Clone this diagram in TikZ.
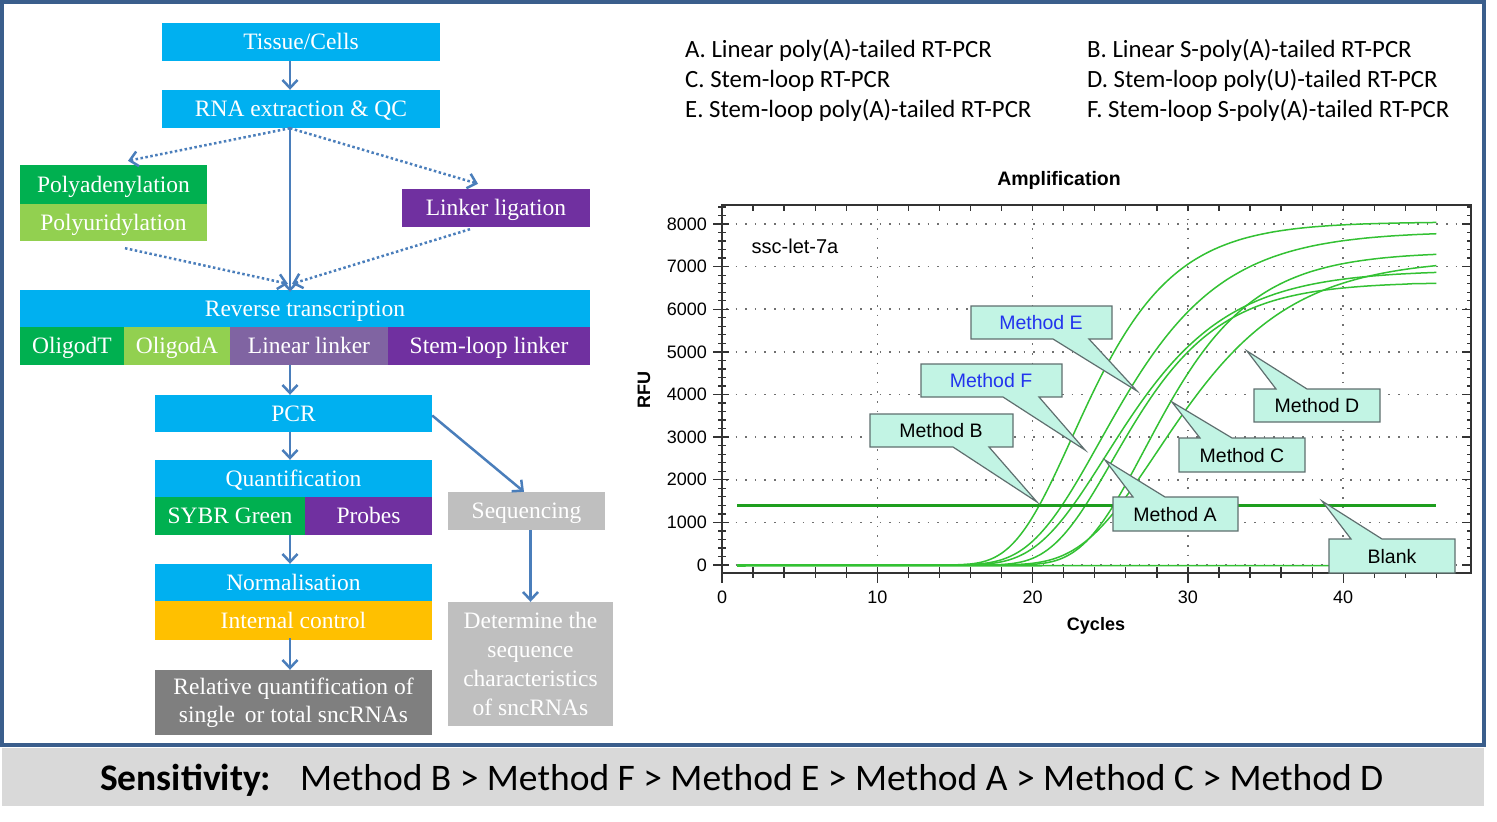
\documentclass[tikz,border=0pt]{standalone}
\usepackage{fontspec}
\setmainfont{Liberation Serif}
\newfontfamily\arialf{Liberation Sans}
\newfontfamily\calf{Carlito}
\usetikzlibrary{arrows.meta,calc}
\definecolor{cyanb}{HTML}{00B0F0}
\definecolor{greenb}{HTML}{00B050}
\definecolor{lgreenb}{HTML}{92D050}
\definecolor{purpb}{HTML}{7030A0}
\definecolor{lpurpb}{HTML}{8064A2}
\definecolor{yellb}{HTML}{FFC000}
\definecolor{dgrayb}{HTML}{7F7F7F}
\definecolor{lgrayb}{HTML}{BFBFBF}
\definecolor{arrc}{HTML}{4A7EBB}
\definecolor{framec}{HTML}{3A5E8C}
\definecolor{barc}{HTML}{D9D9D9}
\definecolor{curvec}{HTML}{33C133}
\definecolor{threshc}{HTML}{1E9E1E}
\definecolor{gridc}{HTML}{707070}
\definecolor{calfill}{HTML}{C2F4E4}
\definecolor{calline}{HTML}{5F6F6F}
\definecolor{bluet}{HTML}{2233EE}
\tikzset{
  blk/.style={inner sep=0pt, text=white, font=\fontsize{23.5}{29}\selectfont, align=center, text height=17pt, text depth=1.5pt},
  multi/.style={text height={}, text depth={}},
  arr/.style={draw=arrc, line width=2.5pt, -{Straight Barb[length=8pt,width=15pt]}},
  dotarr/.style={draw=arrc, line width=2.5pt, dash pattern=on 2.5pt off 2.5pt, -{Straight Barb[length=8pt,width=15pt]}},
  gridl/.style={draw=gridc, line width=1.6pt, dash pattern=on 1.6pt off 8pt},
  curve/.style={draw=curvec, line width=1.5pt},
  thresh/.style={draw=threshc, line width=3pt},
  tickl/.style={draw=black!80, line width=1.3pt},
  callbox/.style={fill=calfill, draw=calline, line width=1.2pt, line join=miter},
  calltext/.style={font=\arialf\fontsize{19.5}{22}\selectfont, inner sep=0pt},
  axlab/.style={font=\arialf\fontsize{18}{21}\selectfont, inner sep=0pt},
  legend/.style={font=\calf\fontsize{24.8}{28}\selectfont, anchor=base west, inner sep=0pt}
}
\begin{document}
\begin{tikzpicture}[x=1pt, y=-1pt,
  declare function={gz(\xa,\xb,\xc,\xd)=\xb*exp(-min(exp(-(\xa-\xc)/\xd),9));}]
\useasboundingbox (0,0) rectangle (1497,822);
\fill[white] (0,0) rectangle (1497,822);
% frame and bottom bar
\fill[barc] (2,748) rectangle (1484,806);
\draw[framec, line width=3.5pt] (2,2) rectangle (1484,745);

% ---------- flowchart ----------
\node[blk, fill=cyanb, minimum width=278pt, minimum height=38pt] (tis) at (301,42) {Tissue/Cells};
\node[blk, fill=cyanb, minimum width=278pt, minimum height=38pt] (rna) at (301,109) {RNA extraction \& QC};
\node[blk, fill=greenb, minimum width=187pt, minimum height=39pt] (pA) at (113.5,184.5) {Polyadenylation};
\node[blk, fill=lgreenb, minimum width=187pt, minimum height=37pt] (pU) at (113.5,222.5) {Polyuridylation};
\node[blk, fill=purpb, minimum width=188pt, minimum height=38pt] (lig) at (496,208) {Linker ligation};
\node[blk, fill=cyanb, minimum width=570pt, minimum height=37pt] (rt) at (305,308.5) {Reverse transcription};
\node[blk, fill=greenb, minimum width=104pt, minimum height=38pt] (odT) at (72,346) {OligodT};
\node[blk, fill=lgreenb, minimum width=106pt, minimum height=38pt] (odA) at (177,346) {OligodA};
\node[blk, fill=lpurpb, minimum width=158pt, minimum height=38pt] (linl) at (309,346) {Linear linker};
\node[blk, fill=purpb, minimum width=202pt, minimum height=38pt] (stl) at (489,346) {Stem-loop linker};
\node[blk, fill=cyanb, minimum width=277pt, minimum height=37pt] (pcr) at (293.5,413.5) {PCR};
\node[blk, fill=cyanb, minimum width=277pt, minimum height=37pt] (quant) at (293.5,478.5) {Quantification};
\node[blk, fill=greenb, minimum width=150pt, minimum height=38pt] (sybr) at (230,516) {SYBR Green};
\node[blk, fill=purpb, minimum width=127pt, minimum height=38pt] (prob) at (368.5,516) {Probes};
\node[blk, fill=cyanb, minimum width=277pt, minimum height=37pt] (norm) at (293.5,582.5) {Normalisation};
\node[blk, fill=yellb, minimum width=277pt, minimum height=39pt] (ictl) at (293.5,620.5) {Internal control};
\node[blk, multi, fill=dgrayb, minimum width=277pt, minimum height=65pt, font=\fontsize{23.5}{28}\selectfont] (rel) at (293.5,702.5) {Relative quantification of\\single\, or total sncRNAs};
\node[blk, fill=lgrayb, minimum width=157pt, minimum height=38pt] (seq) at (526.5,511) {Sequencing};
\node[blk, multi, fill=lgrayb, minimum width=165pt, minimum height=124pt] (det) at (530.5,664) {Determine the\\sequence\\characteristics\\of sncRNAs};

\coordinate (ax) at (290,0);
\draw[arr] (tis.south -| ax) -- (rna.north -| ax);
\draw[arr] (rna.south -| ax) -- ([yshift=-2pt]rt.north -| ax);
\draw[dotarr] (rna.south -| ax) -- ([shift={(14.5,-4)}]pA.north);
\draw[dotarr] (rna.south -| ax) -- ([shift={(-18,-5)}]lig.north);
\draw[dotarr] ([shift={(11.5,7)}]pU.south) -- ([shift={(-2,-6)}]rt.north -| ax);
\draw[dotarr] ([shift={(-26,2)}]lig.south) -- ([shift={(2,-6)}]rt.north -| ax);
\draw[arr] (linl.south -| ax) -- (pcr.north -| ax);
\draw[arr] (pcr.south -| ax) -- (quant.north -| ax);
\draw[arr] (sybr.south -| ax) -- (norm.north -| ax);
\draw[arr] ([yshift=2pt]ictl.south -| ax) -- (rel.north -| ax);
\draw[arr] ([yshift=-2pt]pcr.east) -- ([xshift=-2.5pt]seq.north);
\draw[arr] (seq.south -| det.north) -- (det.north);

% ---------- legend ----------
\node[legend] (lA) at (685,57) {A. Linear poly(A)-tailed RT-PCR};
\node[legend] (lC) at (685,87) {C. Stem-loop RT-PCR};
\node[legend] (lE) at (685,117) {E. Stem-loop poly(A)-tailed RT-PCR};
\node[legend] (lB) at (1087,57) {B. Linear S-poly(A)-tailed RT-PCR};
\node[legend] (lD) at (1087,87) {D. Stem-loop poly(U)-tailed RT-PCR};
\node[legend] (lF) at (1087,117) {F. Stem-loop S-poly(A)-tailed RT-PCR};

% ---------- chart ----------
\foreach \k in {0,...,8} \draw[gridl] (726,{565-42.625*\k}) -- (1467,{565-42.625*\k});
\foreach \k in {1,...,4} \draw[gridl] ({722+155.3*\k},209) -- ({722+155.3*\k},569);

\foreach \M/\Z/\K in {8050/22.5/3.7, 7830/24.3/4.43, 6920/24.68/4.43, 6640/25.12/3.876, 7350/27.2/3.94, 7200/28.0/4.87}
  \draw[curve] plot[domain=1:46, samples=91, smooth] ({722+15.53*\x},{565-0.042625*gz(\x,\M,\Z,\K)});
\draw[curve] (737,566) -- (1330,565.5);
\draw[thresh] (737,505) -- (1436,505);

\draw[draw=black!80, line width=1.3pt] (722,205) rectangle (1471,573);
\foreach \k in {0,...,42} {
  \draw[tickl] (718,{565-8.525*\k}) -- (726,{565-8.525*\k});
  \draw[tickl] (1467,{565-8.525*\k}) -- (1471,{565-8.525*\k});
}
\foreach \k in {0,...,8} {
  \draw[tickl] (713,{565-42.625*\k}) -- (729,{565-42.625*\k});
  \draw[tickl] (1462,{565-42.625*\k}) -- (1471,{565-42.625*\k});
  \node[axlab, anchor=east] (yl\k) at (707,{565-42.625*\k}) {\the\numexpr\k*1000\relax};
}
\foreach \k in {1,...,23} {
  \draw[tickl] ({722+31.06*\k},567) -- ({722+31.06*\k},578);
  \draw[tickl] ({722+31.06*\k},205) -- ({722+31.06*\k},211);
}
\foreach \k in {0,...,4} {
  \draw[tickl] ({722+155.3*\k},567) -- ({722+155.3*\k},583);
  \node[axlab] (xl\k) at ({722+155.3*\k},597) {\the\numexpr\k*10\relax};
}
\node[font=\arialf\bfseries\fontsize{19.5}{22}\selectfont, inner sep=0pt] (ttl) at (1059,180) {Amplification};
\node[font=\arialf\bfseries\fontsize{18}{21}\selectfont, inner sep=0pt] (xlab) at (1096,626) {Cycles};
\node[font=\arialf\bfseries\fontsize{18}{21}\selectfont, inner sep=0pt, rotate=90] (ylab) at (644,390) {RFU};
\node[font=\arialf\fontsize{20}{23}\selectfont, inner sep=0pt] (ssc) at (795,246) {ssc-let-7a};

% callouts
\draw[callbox] (971,306) -- (1112,306) -- (1112,339) -- (1089,339) -- (1137,391) -- (1053,339) -- (971,339) -- cycle;
\node[calltext, text=bluet] (cE) at (1041,322.5) {Method E};
\draw[callbox] (921,364) -- (1062,364) -- (1062,397) -- (1039,397) -- (1085,450) -- (1003,397) -- (921,397) -- cycle;
\node[calltext, text=bluet] (cF) at (991,380.5) {Method F};
\draw[callbox] (870,414) -- (1013,414) -- (1013,447) -- (989,447) -- (1037,502) -- (953,447) -- (870,447) -- cycle;
\node[calltext] (cB) at (941,430.5) {Method B};
\draw[callbox] (1113,497) -- (1133,497) -- (1105,460) -- (1165,497) -- (1238,497) -- (1238,531) -- (1113,531) -- cycle;
\node[calltext] (cA) at (1175,515) {Method A};
\draw[callbox] (1179,438) -- (1200,438) -- (1172,402) -- (1232,438) -- (1305,438) -- (1305,472) -- (1179,472) -- cycle;
\node[calltext] (cC) at (1242,456) {Method C};
\draw[callbox] (1254,389) -- (1276,389) -- (1247,351) -- (1307,389) -- (1380,389) -- (1380,422) -- (1254,422) -- cycle;
\node[calltext] (cD) at (1317,406) {Method D};
\draw[callbox] (1329,539) -- (1351,539) -- (1322,501) -- (1382,539) -- (1455,539) -- (1455,573) -- (1329,573) -- cycle;
\node[calltext] (cBl) at (1392,557) {Blank};

% ---------- bottom line ----------
\node[font=\calf\bfseries\fontsize{37.5}{44}\selectfont, anchor=base west, inner sep=0pt] (sens) at (100,790) {Sensitivity:};
\node[font=\calf\fontsize{37.5}{44}\selectfont, anchor=base west, inner sep=0pt] (order) at (300,790) {Method B > Method F > Method E > Method A > Method C > Method D};
\end{tikzpicture}
\end{document}
